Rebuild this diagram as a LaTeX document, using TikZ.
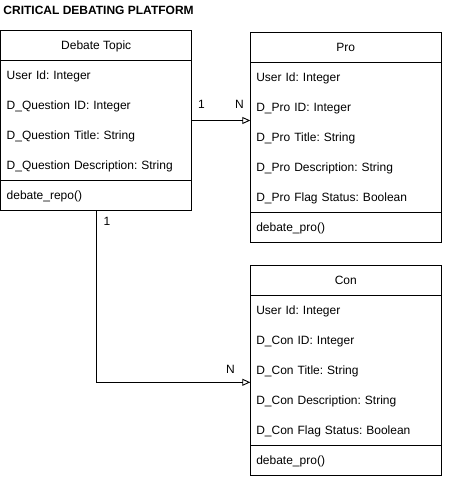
\documentclass[tikz,border=0pt]{standalone}
\usepackage{fontspec}
\setmainfont{Liberation Sans}
\frenchspacing
\usetikzlibrary{arrows.meta, positioning, fit}

\begin{document}
\begin{tikzpicture}[
            x=1pt, y=-1pt,
            >={Triangle[open, length=8pt, width=7pt]},
                classhead/.style = {rectangle, draw=black, fill=white,
                            minimum width=191pt, minimum height=30pt,
                            outer sep=0pt, text centered, text height=8.6pt,
                            text depth=0pt, font=\fontsize{12}{14.4}\selectfont},
                classbody/.style = {rectangle, draw=black, fill=white,
                            text width=179pt, inner xsep=6pt, inner ysep=0pt,
                            outer sep=0pt, align=left, text height=8.6pt,
                            font=\fontsize{12}{30}\selectfont},
                attrs/.style = {classbody},
                ops/.style = {classbody, minimum height=30pt, text depth=0pt},
                classwrap/.style = {inner sep=0pt, outer sep=0pt},
                mult/.style = {inner sep=0pt, font=\fontsize{12}{14.4}\selectfont},
            line width=0.9pt]
            \useasboundingbox (0,0) rectangle (452,487);
            \node (title) [anchor=west, inner sep=0pt,
                font=\bfseries\fontsize{12}{14.4}\selectfont] at (3,10) {
                CRITICAL DEBATING PLATFORM
            };
            % Debate Topic
            \node (topicHead) [classhead, anchor=north west] at (0.7,30.5) {
                Debate Topic
            };
            \node (topicAttrs) [attrs, minimum height=120pt, text depth=90pt,
                below=0pt of topicHead] {
                User Id: Integer \\
                D\_Question ID: Integer \\
                D\_Question Title: String \\
                D\_Question Description: String
            };
            \node (topicOps) [ops, below=0pt of topicAttrs] {
                debate\_repo()
            };
            \node (topic) [classwrap, fit=(topicHead)(topicOps)] {};
            % Pro
            \node (proHead) [classhead, anchor=north west] at (250.3,32.3) {
                Pro
            };
            \node (proAttrs) [attrs, minimum height=150pt, text depth=120pt,
                below=0pt of proHead] {
                User Id: Integer \\
                D\_Pro ID: Integer \\
                D\_Pro Title: String \\
                D\_Pro Description: String \\
                D\_Pro Flag Status: Boolean
            };
            \node (proOps) [ops, below=0pt of proAttrs] {
                debate\_pro()
            };
            \node (pro) [classwrap, fit=(proHead)(proOps)] {};
            % Con
            \node (conHead) [classhead, anchor=north west] at (250.3,265.3) {
                Con
            };
            \node (conAttrs) [attrs, minimum height=150pt, text depth=120pt,
                below=0pt of conHead] {
                User Id: Integer \\
                D\_Con ID: Integer \\
                D\_Con Title: String \\
                D\_Con Description: String \\
                D\_Con Flag Status: Boolean
            };
            \node (conOps) [ops, below=0pt of conAttrs] {
                debate\_pro()
            };
            \node (con) [classwrap, fit=(conHead)(conOps)] {};
            % associations
            \coordinate (proIn) at (topic.east -| pro.west);
            \coordinate (conIn) at ([yshift=-12pt]con.west);
            \draw[->] (topic.east) -- (proIn);
            \draw[->] (topic.south) |- (conIn);
            \node (topicOne) [mult, above right=12pt and 6pt of topic.east] {1};
            \node (proMany) [mult, above left=12pt and 6pt of proIn] {N};
            \node (topicTwo) [mult, below right=6pt and 7pt of topic.south] {1};
            \node (conMany) [mult, above left=8pt and 15pt of conIn] {N};
        \end{tikzpicture}
\end{document}
